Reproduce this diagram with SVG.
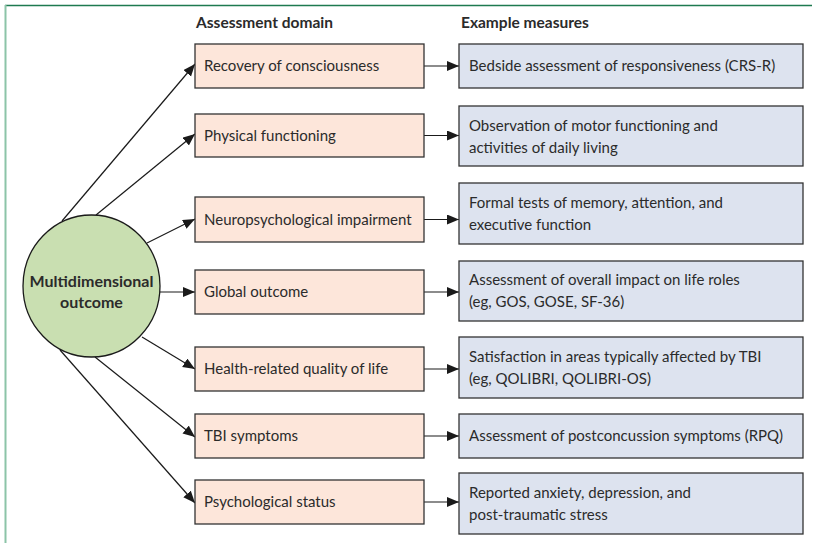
<svg xmlns="http://www.w3.org/2000/svg" width="813" height="544" viewBox="0 0 813 544">
<defs>
<marker id="ah" markerUnits="userSpaceOnUse" markerWidth="13" markerHeight="11" refX="12" refY="5" orient="auto">
<path d="M0,0 L12,5 L0,10 Z" fill="#1a1a1a"/>
</marker>
<style>
.t{font-family:Lato,"Liberation Sans",sans-serif;font-size:15px;fill:#2b2b2b}
.h{font-family:Lato,"Liberation Sans",sans-serif;font-size:15.5px;font-weight:bold;fill:#2b2b2b}
.ch{font-family:Lato,"Liberation Sans",sans-serif;font-size:16px;font-weight:bold;fill:#2b2b2b}
.pk{fill:#fde6da;stroke:#333;stroke-width:1.3}
.bl{fill:#dde3ef;stroke:#333;stroke-width:1.3}
.c{stroke:#1a1a1a;stroke-width:1.2;fill:none}
</style>
</defs>
<rect width="813" height="544" fill="#fff"/>
<g id="frame">
<line x1="5" y1="5.5" x2="812" y2="5.5" stroke="#1e7a50" stroke-width="1.5"/>
<line x1="5.5" y1="5" x2="5.5" y2="543" stroke="#8cc4a8" stroke-width="2"/>
</g>
<text class="h" x="196" y="28">Assessment domain</text>
<text class="h" x="461" y="28">Example measures</text>
<g id="connectors">
<line class="c" x1="62" y1="221" x2="195" y2="64" marker-end="url(#ah)"/>
<line class="c" x1="96" y1="215" x2="195" y2="134" marker-end="url(#ah)"/>
<line class="c" x1="147" y1="243" x2="195" y2="219" marker-end="url(#ah)"/>
<line class="c" x1="160" y1="292" x2="195" y2="292" marker-end="url(#ah)"/>
<line class="c" x1="142" y1="337" x2="195" y2="369" marker-end="url(#ah)"/>
<line class="c" x1="95" y1="357" x2="195" y2="437" marker-end="url(#ah)"/>
<line class="c" x1="60" y1="350" x2="195" y2="503" marker-end="url(#ah)"/>
<line class="c" x1="424" y1="66" x2="459" y2="66" marker-end="url(#ah)"/>
<line class="c" x1="424" y1="135.5" x2="459" y2="135.5" marker-end="url(#ah)"/>
<line class="c" x1="424" y1="219.5" x2="459" y2="219.5" marker-end="url(#ah)"/>
<line class="c" x1="424" y1="292" x2="459" y2="292" marker-end="url(#ah)"/>
<line class="c" x1="424" y1="369" x2="459" y2="369" marker-end="url(#ah)"/>
<line class="c" x1="424" y1="436" x2="459" y2="436" marker-end="url(#ah)"/>
<line class="c" x1="424" y1="502" x2="459" y2="502" marker-end="url(#ah)"/>
</g>
<g id="outcome">
<ellipse cx="91.5" cy="286" rx="68.5" ry="71" fill="#c9dfb1" stroke="#1a1a1a" stroke-width="1.3"/>
<text class="ch" x="91.5" y="287" text-anchor="middle">Multidimensional</text>
<text class="ch" x="91.5" y="308" text-anchor="middle">outcome</text>
</g>
<g id="d1"><rect class="pk" x="195" y="44" width="229" height="44"/><text class="t" x="204" y="70.5">Recovery of consciousness</text></g>
<g id="d2"><rect class="pk" x="195" y="114" width="229" height="43"/><text class="t" x="204" y="140.5">Physical functioning</text></g>
<g id="d3"><rect class="pk" x="195" y="197" width="229" height="45"/><text class="t" x="204" y="224.5">Neuropsychological impairment</text></g>
<g id="d4"><rect class="pk" x="195" y="270" width="229" height="44"/><text class="t" x="204" y="296.5">Global outcome</text></g>
<g id="d5"><rect class="pk" x="195" y="347" width="229" height="44"/><text class="t" x="204" y="373.5">Health-related quality of life</text></g>
<g id="d6"><rect class="pk" x="195" y="414" width="229" height="44"/><text class="t" x="204" y="440.5">TBI symptoms</text></g>
<g id="d7"><rect class="pk" x="195" y="480" width="229" height="44"/><text class="t" x="204" y="506.5">Psychological status</text></g>
<g id="m1"><rect class="bl" x="459" y="44" width="344" height="44"/><text class="t" x="469" y="70.5">Bedside assessment of responsiveness (CRS-R)</text></g>
<g id="m2"><rect class="bl" x="459" y="106" width="344" height="60"/><text class="t" x="469" y="131">Observation of motor functioning and</text><text class="t" x="469" y="153">activities of daily living</text></g>
<g id="m3"><rect class="bl" x="459" y="183" width="344" height="61"/><text class="t" x="469" y="208">Formal tests of memory, attention, and</text><text class="t" x="469" y="230">executive function</text></g>
<g id="m4"><rect class="bl" x="459" y="261" width="344" height="60"/><text class="t" x="469" y="285">Assessment of overall impact on life roles</text><text class="t" x="469" y="307">(eg, GOS, GOSE, SF-36)</text></g>
<g id="m5"><rect class="bl" x="459" y="337" width="344" height="61"/><text class="t" x="469" y="362">Satisfaction in areas typically affected by TBI</text><text class="t" x="469" y="384">(eg, QOLIBRI, QOLIBRI-OS)</text></g>
<g id="m6"><rect class="bl" x="459" y="414" width="344" height="44"/><text class="t" x="469" y="440.5">Assessment of postconcussion symptoms (RPQ)</text></g>
<g id="m7"><rect class="bl" x="459" y="473" width="344" height="61"/><text class="t" x="469" y="498">Reported anxiety, depression, and</text><text class="t" x="469" y="520">post-traumatic stress</text></g>
</svg>
